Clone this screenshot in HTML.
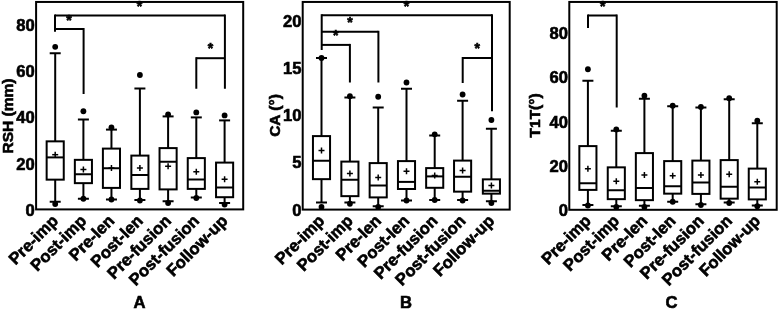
<!DOCTYPE html>
<html><head><meta charset="utf-8"><title>Figure</title>
<style>
html,body{margin:0;padding:0;background:#fff;}
svg{display:block;}
svg text{font-family:"Liberation Sans",Arial,sans-serif;font-weight:bold;fill:#000;stroke:#000;stroke-width:0.6px;}
</style></head><body>
<svg width="778" height="309" viewBox="0 0 778 309" stroke="#000" fill="none">
<rect x="0" y="0" width="778" height="309" fill="#fff" stroke="none"/>
<rect x="36.1" y="1.95" width="207.10" height="207.45" fill="none" stroke-width="2.0"/>
<text x="34.80" y="215.74" font-size="16.6" text-anchor="end">0</text>
<text x="34.80" y="169.64" font-size="16.6" text-anchor="end">20</text>
<text x="34.80" y="123.44" font-size="16.6" text-anchor="end">40</text>
<text x="34.80" y="77.24" font-size="16.6" text-anchor="end">60</text>
<text x="34.80" y="31.04" font-size="16.6" text-anchor="end">80</text>
<text x="13.10" y="116.00" font-size="15.5" text-anchor="middle" transform="rotate(-90 13.10 116.00)">RSH (mm)</text>
<text x="139.40" y="308.10" font-size="16.6" text-anchor="middle">A</text>
<line x1="55.20" y1="53.25" x2="55.20" y2="201.75" stroke-width="2.0"/>
<line x1="49.70" y1="53.25" x2="60.70" y2="53.25" stroke-width="2.0"/>
<line x1="49.70" y1="201.75" x2="60.70" y2="201.75" stroke-width="2.0"/>
<rect x="46.65" y="141.35" width="17.10" height="38.30" fill="#fff" stroke-width="2.0"/>
<line x1="46.65" y1="157.40" x2="63.75" y2="157.40" stroke-width="2.0"/>
<line x1="52.20" y1="154.70" x2="58.20" y2="154.70" stroke-width="1.5"/>
<line x1="55.20" y1="151.70" x2="55.20" y2="157.70" stroke-width="1.5"/>
<circle cx="55.20" cy="46.80" r="2.9" fill="#000" stroke="none"/>
<circle cx="55.20" cy="204.00" r="2.9" fill="#000" stroke="none"/>
<text x="59.20" y="221.90" font-size="16.6" text-anchor="end" transform="rotate(-45 59.20 221.90)">Pre-imp</text>
<line x1="83.40" y1="119.50" x2="83.40" y2="198.75" stroke-width="2.0"/>
<line x1="77.90" y1="119.50" x2="88.90" y2="119.50" stroke-width="2.0"/>
<line x1="77.90" y1="198.75" x2="88.90" y2="198.75" stroke-width="2.0"/>
<rect x="74.85" y="159.85" width="17.10" height="23.30" fill="#fff" stroke-width="2.0"/>
<line x1="74.85" y1="174.25" x2="91.95" y2="174.25" stroke-width="2.0"/>
<line x1="80.40" y1="169.50" x2="86.40" y2="169.50" stroke-width="1.5"/>
<line x1="83.40" y1="166.50" x2="83.40" y2="172.50" stroke-width="1.5"/>
<circle cx="83.40" cy="111.25" r="2.9" fill="#000" stroke="none"/>
<circle cx="83.40" cy="198.75" r="2.9" fill="#000" stroke="none"/>
<text x="87.40" y="221.90" font-size="16.6" text-anchor="end" transform="rotate(-45 87.40 221.90)">Post-imp</text>
<line x1="111.45" y1="129.60" x2="111.45" y2="199.50" stroke-width="2.0"/>
<line x1="105.95" y1="129.60" x2="116.95" y2="129.60" stroke-width="2.0"/>
<line x1="105.95" y1="199.50" x2="116.95" y2="199.50" stroke-width="2.0"/>
<rect x="102.90" y="148.60" width="17.10" height="39.30" fill="#fff" stroke-width="2.0"/>
<line x1="102.90" y1="168.25" x2="120.00" y2="168.25" stroke-width="2.0"/>
<line x1="108.45" y1="168.00" x2="114.45" y2="168.00" stroke-width="1.5"/>
<line x1="111.45" y1="165.00" x2="111.45" y2="171.00" stroke-width="1.5"/>
<circle cx="111.45" cy="127.50" r="2.9" fill="#000" stroke="none"/>
<circle cx="111.45" cy="199.50" r="2.9" fill="#000" stroke="none"/>
<text x="115.45" y="221.90" font-size="16.6" text-anchor="end" transform="rotate(-45 115.45 221.90)">Pre-len</text>
<line x1="139.90" y1="88.50" x2="139.90" y2="200.00" stroke-width="2.0"/>
<line x1="134.40" y1="88.50" x2="145.40" y2="88.50" stroke-width="2.0"/>
<line x1="134.40" y1="200.00" x2="145.40" y2="200.00" stroke-width="2.0"/>
<rect x="131.35" y="155.60" width="17.10" height="33.30" fill="#fff" stroke-width="2.0"/>
<line x1="131.35" y1="175.00" x2="148.45" y2="175.00" stroke-width="2.0"/>
<line x1="136.90" y1="168.00" x2="142.90" y2="168.00" stroke-width="1.5"/>
<line x1="139.90" y1="165.00" x2="139.90" y2="171.00" stroke-width="1.5"/>
<circle cx="139.90" cy="75.00" r="2.9" fill="#000" stroke="none"/>
<circle cx="139.90" cy="200.50" r="2.9" fill="#000" stroke="none"/>
<text x="143.90" y="221.90" font-size="16.6" text-anchor="end" transform="rotate(-45 143.90 221.90)">Post-len</text>
<line x1="168.10" y1="116.40" x2="168.10" y2="201.25" stroke-width="2.0"/>
<line x1="162.60" y1="116.40" x2="173.60" y2="116.40" stroke-width="2.0"/>
<line x1="162.60" y1="201.25" x2="173.60" y2="201.25" stroke-width="2.0"/>
<rect x="159.55" y="148.10" width="17.10" height="41.30" fill="#fff" stroke-width="2.0"/>
<line x1="159.55" y1="161.75" x2="176.65" y2="161.75" stroke-width="2.0"/>
<line x1="165.10" y1="166.25" x2="171.10" y2="166.25" stroke-width="1.5"/>
<line x1="168.10" y1="163.25" x2="168.10" y2="169.25" stroke-width="1.5"/>
<circle cx="168.10" cy="114.50" r="2.9" fill="#000" stroke="none"/>
<circle cx="168.10" cy="203.00" r="2.9" fill="#000" stroke="none"/>
<text x="172.10" y="221.90" font-size="16.6" text-anchor="end" transform="rotate(-45 172.10 221.90)">Pre-fusion</text>
<line x1="196.30" y1="117.40" x2="196.30" y2="197.50" stroke-width="2.0"/>
<line x1="190.80" y1="117.40" x2="201.80" y2="117.40" stroke-width="2.0"/>
<line x1="190.80" y1="197.50" x2="201.80" y2="197.50" stroke-width="2.0"/>
<rect x="187.75" y="158.10" width="17.10" height="30.80" fill="#fff" stroke-width="2.0"/>
<line x1="187.75" y1="179.50" x2="204.85" y2="179.50" stroke-width="2.0"/>
<line x1="193.30" y1="171.75" x2="199.30" y2="171.75" stroke-width="1.5"/>
<line x1="196.30" y1="168.75" x2="196.30" y2="174.75" stroke-width="1.5"/>
<circle cx="196.30" cy="112.40" r="2.9" fill="#000" stroke="none"/>
<circle cx="196.30" cy="198.00" r="2.9" fill="#000" stroke="none"/>
<text x="200.30" y="221.90" font-size="16.6" text-anchor="end" transform="rotate(-45 200.30 221.90)">Post-fusion</text>
<line x1="224.60" y1="120.40" x2="224.60" y2="203.00" stroke-width="2.0"/>
<line x1="219.10" y1="120.40" x2="230.10" y2="120.40" stroke-width="2.0"/>
<line x1="219.10" y1="203.00" x2="230.10" y2="203.00" stroke-width="2.0"/>
<rect x="216.05" y="162.60" width="17.10" height="34.60" fill="#fff" stroke-width="2.0"/>
<line x1="216.05" y1="187.50" x2="233.15" y2="187.50" stroke-width="2.0"/>
<line x1="221.60" y1="179.25" x2="227.60" y2="179.25" stroke-width="1.5"/>
<line x1="224.60" y1="176.25" x2="224.60" y2="182.25" stroke-width="1.5"/>
<circle cx="224.60" cy="115.40" r="2.9" fill="#000" stroke="none"/>
<circle cx="224.60" cy="204.60" r="2.9" fill="#000" stroke="none"/>
<text x="228.60" y="221.90" font-size="16.6" text-anchor="end" transform="rotate(-45 228.60 221.90)">Follow-up</text>
<line x1="55.00" y1="15.50" x2="224.90" y2="15.50" stroke-width="2.0"/>
<line x1="55.00" y1="14.50" x2="55.00" y2="31.75" stroke-width="2.0"/>
<line x1="224.90" y1="14.50" x2="224.90" y2="88.75" stroke-width="2.0"/>
<line x1="55.00" y1="29.00" x2="83.60" y2="29.00" stroke-width="2.0"/>
<line x1="83.60" y1="28.00" x2="83.60" y2="94.00" stroke-width="2.0"/>
<line x1="196.30" y1="58.20" x2="224.90" y2="58.20" stroke-width="2.0"/>
<line x1="196.30" y1="57.20" x2="196.30" y2="88.75" stroke-width="2.0"/>
<text x="69.00" y="25.10" font-size="14" text-anchor="middle">*</text>
<text x="139.60" y="10.80" font-size="14" text-anchor="middle">*</text>
<text x="210.50" y="52.70" font-size="14" text-anchor="middle">*</text>
<rect x="302.7" y="1.95" width="207.00" height="207.65" fill="none" stroke-width="2.0"/>
<text x="301.40" y="215.94" font-size="16.6" text-anchor="end">0</text>
<text x="301.40" y="168.44" font-size="16.6" text-anchor="end">5</text>
<text x="301.40" y="121.24" font-size="16.6" text-anchor="end">10</text>
<text x="301.40" y="74.14" font-size="16.6" text-anchor="end">15</text>
<text x="301.40" y="27.04" font-size="16.6" text-anchor="end">20</text>
<text x="279.70" y="115.50" font-size="15.5" text-anchor="middle" transform="rotate(-90 279.70 115.50)">CA (°)</text>
<text x="405.90" y="308.10" font-size="16.6" text-anchor="middle">B</text>
<line x1="321.50" y1="58.00" x2="321.50" y2="202.50" stroke-width="2.0"/>
<line x1="316.00" y1="58.00" x2="327.00" y2="58.00" stroke-width="2.0"/>
<line x1="316.00" y1="202.50" x2="327.00" y2="202.50" stroke-width="2.0"/>
<rect x="312.95" y="136.10" width="17.10" height="43.05" fill="#fff" stroke-width="2.0"/>
<line x1="312.95" y1="160.75" x2="330.05" y2="160.75" stroke-width="2.0"/>
<line x1="318.50" y1="150.50" x2="324.50" y2="150.50" stroke-width="1.5"/>
<line x1="321.50" y1="147.50" x2="321.50" y2="153.50" stroke-width="1.5"/>
<circle cx="321.50" cy="58.00" r="2.9" fill="#000" stroke="none"/>
<circle cx="321.50" cy="207.00" r="2.9" fill="#000" stroke="none"/>
<text x="325.50" y="221.90" font-size="16.6" text-anchor="end" transform="rotate(-45 325.50 221.90)">Pre-imp</text>
<line x1="349.90" y1="97.50" x2="349.90" y2="202.50" stroke-width="2.0"/>
<line x1="344.40" y1="97.50" x2="355.40" y2="97.50" stroke-width="2.0"/>
<line x1="344.40" y1="202.50" x2="355.40" y2="202.50" stroke-width="2.0"/>
<rect x="341.35" y="161.60" width="17.10" height="34.55" fill="#fff" stroke-width="2.0"/>
<line x1="341.35" y1="179.75" x2="358.45" y2="179.75" stroke-width="2.0"/>
<line x1="346.90" y1="173.50" x2="352.90" y2="173.50" stroke-width="1.5"/>
<line x1="349.90" y1="170.50" x2="349.90" y2="176.50" stroke-width="1.5"/>
<circle cx="349.90" cy="96.25" r="2.9" fill="#000" stroke="none"/>
<circle cx="349.90" cy="203.75" r="2.9" fill="#000" stroke="none"/>
<text x="353.90" y="221.90" font-size="16.6" text-anchor="end" transform="rotate(-45 353.90 221.90)">Post-imp</text>
<line x1="378.20" y1="107.50" x2="378.20" y2="206.25" stroke-width="2.0"/>
<line x1="372.70" y1="107.50" x2="383.70" y2="107.50" stroke-width="2.0"/>
<line x1="372.70" y1="206.25" x2="383.70" y2="206.25" stroke-width="2.0"/>
<rect x="369.65" y="163.10" width="17.10" height="34.30" fill="#fff" stroke-width="2.0"/>
<line x1="369.65" y1="185.50" x2="386.75" y2="185.50" stroke-width="2.0"/>
<line x1="375.20" y1="177.50" x2="381.20" y2="177.50" stroke-width="1.5"/>
<line x1="378.20" y1="174.50" x2="378.20" y2="180.50" stroke-width="1.5"/>
<circle cx="378.20" cy="96.75" r="2.9" fill="#000" stroke="none"/>
<circle cx="378.20" cy="207.00" r="2.9" fill="#000" stroke="none"/>
<text x="382.20" y="221.90" font-size="16.6" text-anchor="end" transform="rotate(-45 382.20 221.90)">Pre-len</text>
<line x1="406.50" y1="88.75" x2="406.50" y2="200.50" stroke-width="2.0"/>
<line x1="401.00" y1="88.75" x2="412.00" y2="88.75" stroke-width="2.0"/>
<line x1="401.00" y1="200.50" x2="412.00" y2="200.50" stroke-width="2.0"/>
<rect x="397.95" y="161.10" width="17.10" height="27.90" fill="#fff" stroke-width="2.0"/>
<line x1="397.95" y1="181.90" x2="415.05" y2="181.90" stroke-width="2.0"/>
<line x1="403.50" y1="171.25" x2="409.50" y2="171.25" stroke-width="1.5"/>
<line x1="406.50" y1="168.25" x2="406.50" y2="174.25" stroke-width="1.5"/>
<circle cx="406.50" cy="82.50" r="2.9" fill="#000" stroke="none"/>
<circle cx="406.50" cy="200.50" r="2.9" fill="#000" stroke="none"/>
<text x="410.50" y="221.90" font-size="16.6" text-anchor="end" transform="rotate(-45 410.50 221.90)">Post-len</text>
<line x1="434.70" y1="135.50" x2="434.70" y2="200.00" stroke-width="2.0"/>
<line x1="429.20" y1="135.50" x2="440.20" y2="135.50" stroke-width="2.0"/>
<line x1="429.20" y1="200.00" x2="440.20" y2="200.00" stroke-width="2.0"/>
<rect x="426.15" y="168.10" width="17.10" height="19.70" fill="#fff" stroke-width="2.0"/>
<line x1="426.15" y1="176.40" x2="443.25" y2="176.40" stroke-width="2.0"/>
<line x1="431.70" y1="175.50" x2="437.70" y2="175.50" stroke-width="1.5"/>
<line x1="434.70" y1="172.50" x2="434.70" y2="178.50" stroke-width="1.5"/>
<circle cx="434.70" cy="134.30" r="2.9" fill="#000" stroke="none"/>
<circle cx="434.70" cy="200.00" r="2.9" fill="#000" stroke="none"/>
<text x="438.70" y="221.90" font-size="16.6" text-anchor="end" transform="rotate(-45 438.70 221.90)">Pre-fusion</text>
<line x1="462.60" y1="100.75" x2="462.60" y2="200.00" stroke-width="2.0"/>
<line x1="457.10" y1="100.75" x2="468.10" y2="100.75" stroke-width="2.0"/>
<line x1="457.10" y1="200.00" x2="468.10" y2="200.00" stroke-width="2.0"/>
<rect x="454.05" y="160.60" width="17.10" height="31.05" fill="#fff" stroke-width="2.0"/>
<line x1="454.05" y1="176.75" x2="471.15" y2="176.75" stroke-width="2.0"/>
<line x1="459.60" y1="170.50" x2="465.60" y2="170.50" stroke-width="1.5"/>
<line x1="462.60" y1="167.50" x2="462.60" y2="173.50" stroke-width="1.5"/>
<circle cx="462.60" cy="94.50" r="2.9" fill="#000" stroke="none"/>
<circle cx="462.60" cy="200.50" r="2.9" fill="#000" stroke="none"/>
<text x="466.60" y="221.90" font-size="16.6" text-anchor="end" transform="rotate(-45 466.60 221.90)">Post-fusion</text>
<line x1="491.40" y1="128.75" x2="491.40" y2="201.25" stroke-width="2.0"/>
<line x1="485.90" y1="128.75" x2="496.90" y2="128.75" stroke-width="2.0"/>
<line x1="485.90" y1="201.25" x2="496.90" y2="201.25" stroke-width="2.0"/>
<rect x="482.85" y="179.35" width="17.10" height="14.30" fill="#fff" stroke-width="2.0"/>
<line x1="482.85" y1="190.75" x2="499.95" y2="190.75" stroke-width="2.0"/>
<line x1="488.40" y1="185.50" x2="494.40" y2="185.50" stroke-width="1.5"/>
<line x1="491.40" y1="182.50" x2="491.40" y2="188.50" stroke-width="1.5"/>
<circle cx="491.40" cy="120.00" r="2.9" fill="#000" stroke="none"/>
<circle cx="491.40" cy="203.00" r="2.9" fill="#000" stroke="none"/>
<text x="495.40" y="221.90" font-size="16.6" text-anchor="end" transform="rotate(-45 495.40 221.90)">Follow-up</text>
<line x1="321.70" y1="15.20" x2="492.00" y2="15.20" stroke-width="2.0"/>
<line x1="321.70" y1="14.20" x2="321.70" y2="50.00" stroke-width="2.0"/>
<line x1="492.00" y1="14.20" x2="492.00" y2="111.25" stroke-width="2.0"/>
<line x1="321.70" y1="31.80" x2="378.40" y2="31.80" stroke-width="2.0"/>
<line x1="378.40" y1="30.80" x2="378.40" y2="82.50" stroke-width="2.0"/>
<line x1="321.70" y1="44.90" x2="349.90" y2="44.90" stroke-width="2.0"/>
<line x1="349.90" y1="43.90" x2="349.90" y2="82.50" stroke-width="2.0"/>
<line x1="462.70" y1="58.00" x2="492.00" y2="58.00" stroke-width="2.0"/>
<line x1="462.70" y1="57.00" x2="462.70" y2="83.00" stroke-width="2.0"/>
<text x="350.10" y="27.00" font-size="14" text-anchor="middle">*</text>
<text x="335.70" y="39.90" font-size="14" text-anchor="middle">*</text>
<text x="406.60" y="10.80" font-size="14" text-anchor="middle">*</text>
<text x="477.30" y="53.10" font-size="14" text-anchor="middle">*</text>
<rect x="569.3" y="1.95" width="207.40" height="207.85" fill="none" stroke-width="2.0"/>
<text x="568.00" y="216.04" font-size="16.6" text-anchor="end">0</text>
<text x="568.00" y="171.84" font-size="16.6" text-anchor="end">20</text>
<text x="568.00" y="127.54" font-size="16.6" text-anchor="end">40</text>
<text x="568.00" y="83.24" font-size="16.6" text-anchor="end">60</text>
<text x="568.00" y="38.94" font-size="16.6" text-anchor="end">80</text>
<text x="540.40" y="115.40" font-size="15.5" text-anchor="middle" transform="rotate(-90 540.40 115.40)">T1T(°)</text>
<text x="671.50" y="308.10" font-size="16.6" text-anchor="middle">C</text>
<line x1="587.90" y1="80.75" x2="587.90" y2="205.00" stroke-width="2.0"/>
<line x1="582.40" y1="80.75" x2="593.40" y2="80.75" stroke-width="2.0"/>
<line x1="582.40" y1="205.00" x2="593.40" y2="205.00" stroke-width="2.0"/>
<rect x="579.35" y="146.10" width="17.10" height="43.80" fill="#fff" stroke-width="2.0"/>
<line x1="579.35" y1="183.25" x2="596.45" y2="183.25" stroke-width="2.0"/>
<line x1="584.90" y1="168.75" x2="590.90" y2="168.75" stroke-width="1.5"/>
<line x1="587.90" y1="165.75" x2="587.90" y2="171.75" stroke-width="1.5"/>
<circle cx="587.90" cy="69.25" r="2.9" fill="#000" stroke="none"/>
<circle cx="587.90" cy="205.50" r="2.9" fill="#000" stroke="none"/>
<text x="591.90" y="221.90" font-size="16.6" text-anchor="end" transform="rotate(-45 591.90 221.90)">Pre-imp</text>
<line x1="616.30" y1="130.75" x2="616.30" y2="206.25" stroke-width="2.0"/>
<line x1="610.80" y1="130.75" x2="621.80" y2="130.75" stroke-width="2.0"/>
<line x1="610.80" y1="206.25" x2="621.80" y2="206.25" stroke-width="2.0"/>
<rect x="607.75" y="167.35" width="17.10" height="31.80" fill="#fff" stroke-width="2.0"/>
<line x1="607.75" y1="190.25" x2="624.85" y2="190.25" stroke-width="2.0"/>
<line x1="613.30" y1="181.25" x2="619.30" y2="181.25" stroke-width="1.5"/>
<line x1="616.30" y1="178.25" x2="616.30" y2="184.25" stroke-width="1.5"/>
<circle cx="616.30" cy="129.50" r="2.9" fill="#000" stroke="none"/>
<circle cx="616.30" cy="207.00" r="2.9" fill="#000" stroke="none"/>
<text x="620.30" y="221.90" font-size="16.6" text-anchor="end" transform="rotate(-45 620.30 221.90)">Post-imp</text>
<line x1="644.40" y1="98.75" x2="644.40" y2="205.75" stroke-width="2.0"/>
<line x1="638.90" y1="98.75" x2="649.90" y2="98.75" stroke-width="2.0"/>
<line x1="638.90" y1="205.75" x2="649.90" y2="205.75" stroke-width="2.0"/>
<rect x="635.85" y="153.10" width="17.10" height="47.05" fill="#fff" stroke-width="2.0"/>
<line x1="635.85" y1="188.00" x2="652.95" y2="188.00" stroke-width="2.0"/>
<line x1="641.40" y1="175.00" x2="647.40" y2="175.00" stroke-width="1.5"/>
<line x1="644.40" y1="172.00" x2="644.40" y2="178.00" stroke-width="1.5"/>
<circle cx="644.40" cy="95.75" r="2.9" fill="#000" stroke="none"/>
<circle cx="644.40" cy="207.00" r="2.9" fill="#000" stroke="none"/>
<text x="648.40" y="221.90" font-size="16.6" text-anchor="end" transform="rotate(-45 648.40 221.90)">Pre-len</text>
<line x1="672.70" y1="106.25" x2="672.70" y2="201.75" stroke-width="2.0"/>
<line x1="667.20" y1="106.25" x2="678.20" y2="106.25" stroke-width="2.0"/>
<line x1="667.20" y1="201.75" x2="678.20" y2="201.75" stroke-width="2.0"/>
<rect x="664.15" y="161.10" width="17.10" height="32.55" fill="#fff" stroke-width="2.0"/>
<line x1="664.15" y1="186.25" x2="681.25" y2="186.25" stroke-width="2.0"/>
<line x1="669.70" y1="175.75" x2="675.70" y2="175.75" stroke-width="1.5"/>
<line x1="672.70" y1="172.75" x2="672.70" y2="178.75" stroke-width="1.5"/>
<circle cx="672.70" cy="105.75" r="2.9" fill="#000" stroke="none"/>
<circle cx="672.70" cy="201.75" r="2.9" fill="#000" stroke="none"/>
<text x="676.70" y="221.90" font-size="16.6" text-anchor="end" transform="rotate(-45 676.70 221.90)">Post-len</text>
<line x1="700.90" y1="107.50" x2="700.90" y2="204.25" stroke-width="2.0"/>
<line x1="695.40" y1="107.50" x2="706.40" y2="107.50" stroke-width="2.0"/>
<line x1="695.40" y1="204.25" x2="706.40" y2="204.25" stroke-width="2.0"/>
<rect x="692.35" y="160.60" width="17.10" height="33.30" fill="#fff" stroke-width="2.0"/>
<line x1="692.35" y1="182.50" x2="709.45" y2="182.50" stroke-width="2.0"/>
<line x1="697.90" y1="175.00" x2="703.90" y2="175.00" stroke-width="1.5"/>
<line x1="700.90" y1="172.00" x2="700.90" y2="178.00" stroke-width="1.5"/>
<circle cx="700.90" cy="107.00" r="2.9" fill="#000" stroke="none"/>
<circle cx="700.90" cy="205.00" r="2.9" fill="#000" stroke="none"/>
<text x="704.90" y="221.90" font-size="16.6" text-anchor="end" transform="rotate(-45 704.90 221.90)">Pre-fusion</text>
<line x1="729.20" y1="99.25" x2="729.20" y2="202.50" stroke-width="2.0"/>
<line x1="723.70" y1="99.25" x2="734.70" y2="99.25" stroke-width="2.0"/>
<line x1="723.70" y1="202.50" x2="734.70" y2="202.50" stroke-width="2.0"/>
<rect x="720.65" y="160.10" width="17.10" height="38.55" fill="#fff" stroke-width="2.0"/>
<line x1="720.65" y1="186.75" x2="737.75" y2="186.75" stroke-width="2.0"/>
<line x1="726.20" y1="174.25" x2="732.20" y2="174.25" stroke-width="1.5"/>
<line x1="729.20" y1="171.25" x2="729.20" y2="177.25" stroke-width="1.5"/>
<circle cx="729.20" cy="98.25" r="2.9" fill="#000" stroke="none"/>
<circle cx="729.20" cy="203.00" r="2.9" fill="#000" stroke="none"/>
<text x="733.20" y="221.90" font-size="16.6" text-anchor="end" transform="rotate(-45 733.20 221.90)">Post-fusion</text>
<line x1="757.30" y1="123.25" x2="757.30" y2="205.50" stroke-width="2.0"/>
<line x1="751.80" y1="123.25" x2="762.80" y2="123.25" stroke-width="2.0"/>
<line x1="751.80" y1="205.50" x2="762.80" y2="205.50" stroke-width="2.0"/>
<rect x="748.75" y="168.60" width="17.10" height="30.80" fill="#fff" stroke-width="2.0"/>
<line x1="748.75" y1="187.50" x2="765.85" y2="187.50" stroke-width="2.0"/>
<line x1="754.30" y1="181.75" x2="760.30" y2="181.75" stroke-width="1.5"/>
<line x1="757.30" y1="178.75" x2="757.30" y2="184.75" stroke-width="1.5"/>
<circle cx="757.30" cy="120.75" r="2.9" fill="#000" stroke="none"/>
<circle cx="757.30" cy="206.25" r="2.9" fill="#000" stroke="none"/>
<text x="761.30" y="221.90" font-size="16.6" text-anchor="end" transform="rotate(-45 761.30 221.90)">Follow-up</text>
<line x1="588.00" y1="15.50" x2="616.70" y2="15.50" stroke-width="2.0"/>
<line x1="588.00" y1="14.50" x2="588.00" y2="28.00" stroke-width="2.0"/>
<line x1="616.70" y1="14.50" x2="616.70" y2="107.50" stroke-width="2.0"/>
<text x="602.70" y="10.80" font-size="14" text-anchor="middle">*</text>
</svg>
</body></html>
